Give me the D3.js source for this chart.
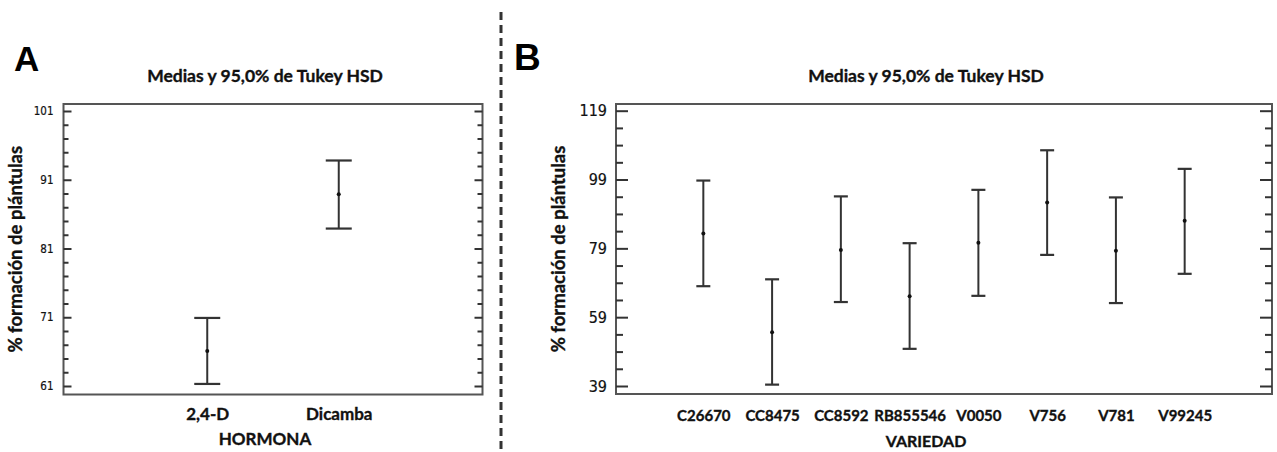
<!DOCTYPE html>
<html>
<head>
<meta charset="utf-8">
<script src="https://cdn.jsdelivr.net/npm/d3@7"></script>
<style>
  html, body { margin: 0; padding: 0; background: #fff; }
  svg { display: block; }
</style>
</head>
<body>
<svg id="chart" width="1277" height="452"></svg>
<script>
// ---------- DATA ----------
const hormonaCats  = ["2,4-D", "Dicamba"];
const hormonaMean  = [66.1, 88.9];
const hormonaLower = [61.3, 83.9];
const hormonaUpper = [70.9, 93.8];
const hormonaTicks = [61, 71, 81, 91, 101];

const variedadCats  = ["C26670", "CC8475", "CC8592", "RB855546", "V0050", "V756", "V781", "V99245"];
const variedadMean  = [83.3, 54.6, 78.5, 65.1, 80.6, 92.3, 78.3, 87.0];
const variedadLower = [68.0, 39.4, 63.4, 49.8, 65.2, 77.1, 63.1, 71.6];
const variedadUpper = [98.7, 70.0, 94.1, 80.5, 96.0, 107.5, 93.8, 102.1];
const variedadTicks = [39, 59, 79, 99, 119];

const titleText = "Medias y 95,0% de Tukey HSD";
const yLabelText = "% formación de plántulas";

// ---------- DRAW ----------
const svg = d3.select("#chart");
const lineColor = "#333";
const boxColor = "#555";
const textFont = "Lato, 'Open Sans', sans-serif";
const tickFont = "'Liberation Sans Narrow', 'DejaVu Sans Condensed', 'Liberation Sans', sans-serif";

function boldText(sel) {
  return sel.attr("font-family", textFont).attr("font-weight", "bold")
    .attr("fill", "#111").attr("stroke", "#111").attr("stroke-width", 0.35);
}

function panel(cfg) {
  const g = svg.append("g");
  const x = d3.scalePoint().domain(cfg.cats).range([cfg.left, cfg.right]).padding(cfg.xPad);
  const y = d3.scaleLinear().domain([cfg.ticks[0], cfg.ticks[cfg.ticks.length - 1]]).range([cfg.yBottomTick, cfg.yTopTick]);

  // box
  g.append("rect")
    .attr("x", cfg.left).attr("y", cfg.top)
    .attr("width", cfg.right - cfg.left).attr("height", cfg.bottom - cfg.top)
    .attr("fill", "none").attr("stroke", boxColor).attr("stroke-width", 2);

  const minorTicks = d3.range(cfg.ticks[0], cfg.ticks[cfg.ticks.length - 1] + 0.001, cfg.minorStep)
    .filter(v => !cfg.ticks.includes(v));

  // left axis major
  const ga = g.append("g").attr("transform", `translate(${cfg.left},0)`)
    .call(d3.axisLeft(y).tickValues(cfg.ticks).tickSize(-cfg.majorLen).tickPadding(cfg.labelGap).tickFormat(d3.format("d")));
  ga.select(".domain").remove();
  ga.selectAll(".tick line").attr("stroke", lineColor).attr("stroke-width", 2);
  ga.selectAll(".tick text").attr("font-family", tickFont).attr("font-size", cfg.tickFontSize)
    .attr("fill", "#111").attr("stroke", "#111").attr("stroke-width", 0.2);

  const gm = g.append("g").attr("transform", `translate(${cfg.left},0)`)
    .call(d3.axisLeft(y).tickValues(minorTicks).tickSize(-cfg.minorLen).tickFormat(""));
  gm.select(".domain").remove();
  gm.selectAll(".tick line").attr("stroke", lineColor).attr("stroke-width", 2);

  // right axis (ticks inward)
  const gr = g.append("g").attr("transform", `translate(${cfg.right},0)`)
    .call(d3.axisRight(y).tickValues(cfg.ticks).tickSize(-cfg.majorLen).tickFormat(""));
  gr.select(".domain").remove();
  gr.selectAll(".tick line").attr("stroke", lineColor).attr("stroke-width", 2);
  const grm = g.append("g").attr("transform", `translate(${cfg.right},0)`)
    .call(d3.axisRight(y).tickValues(minorTicks).tickSize(-cfg.minorLen).tickFormat(""));
  grm.select(".domain").remove();
  grm.selectAll(".tick line").attr("stroke", lineColor).attr("stroke-width", 2);

  // bottom category axis
  const gb = g.append("g").attr("transform", `translate(0,${cfg.bottom})`)
    .call(d3.axisBottom(x).tickSize(0).tickPadding(cfg.catPad));
  gb.select(".domain").remove();
  boldText(gb.selectAll(".tick text")).attr("font-size", cfg.catFontSize);

  // error bars
  const data = cfg.cats.map((c, i) => ({ c, m: cfg.mean[i], lo: cfg.lower[i], hi: cfg.upper[i] }));
  const eb = g.append("g").selectAll("g").data(data).join("g");
  eb.append("line").attr("x1", d => x(d.c)).attr("x2", d => x(d.c))
    .attr("y1", d => y(d.lo)).attr("y2", d => y(d.hi))
    .attr("stroke", lineColor).attr("stroke-width", 2);
  eb.append("line").attr("x1", d => x(d.c) - cfg.cap).attr("x2", d => x(d.c) + cfg.cap)
    .attr("y1", d => y(d.hi)).attr("y2", d => y(d.hi))
    .attr("stroke", lineColor).attr("stroke-width", 2.2);
  eb.append("line").attr("x1", d => x(d.c) - cfg.cap).attr("x2", d => x(d.c) + cfg.cap)
    .attr("y1", d => y(d.lo)).attr("y2", d => y(d.lo))
    .attr("stroke", lineColor).attr("stroke-width", 2.2);
  eb.append("circle").attr("cx", d => x(d.c)).attr("cy", d => y(d.m)).attr("r", 2)
    .attr("fill", "#111");

  // title
  boldText(g.append("text").attr("x", cfg.titleX).attr("y", 82).attr("text-anchor", "middle"))
    .attr("font-size", 17.5).text(titleText);

  // x axis title
  boldText(g.append("text").attr("x", cfg.titleX).attr("y", cfg.xTitleY).attr("text-anchor", "middle"))
    .attr("font-size", cfg.xTitleSize).text(cfg.xTitle);

  // y axis title
  boldText(g.append("text").attr("transform", `translate(${cfg.yTitleX},${(cfg.top + cfg.bottom) / 2}) rotate(-90)`)
    .attr("text-anchor", "middle").attr("dy", "0.35em"))
    .attr("font-size", 18.5).text(yLabelText);

  // panel letter
  g.append("text").attr("x", cfg.letterX).attr("y", cfg.letterY)
    .attr("font-family", "'Liberation Sans', Arial, sans-serif").attr("font-weight", "bold")
    .attr("font-size", cfg.letterSize).attr("fill", "#000").text(cfg.letter);
}

panel({
  cats: hormonaCats, mean: hormonaMean, lower: hormonaLower, upper: hormonaUpper, ticks: hormonaTicks,
  left: 63.5, right: 482.5, top: 104, bottom: 394.5, xPad: 1.093,
  yTopTick: 111, yBottomTick: 386, minorStep: 2, majorLen: 8, minorLen: 5, labelGap: 10,
  tickFontSize: 11.5, catFontSize: 17, catPad: 13, cap: 13,
  titleX: 265, xTitle: "HORMONA", xTitleY: 445, xTitleSize: 17,
  yTitleX: 16, letter: "A", letterX: 14, letterY: 71, letterSize: 35
});

panel({
  cats: variedadCats, mean: variedadMean, lower: variedadLower, upper: variedadUpper, ticks: variedadTicks,
  left: 616, right: 1272, top: 104, bottom: 394, xPad: 1.27,
  yTopTick: 110.7, yBottomTick: 386, minorStep: 5, majorLen: 12, minorLen: 7, labelGap: 9,
  tickFontSize: 16, catFontSize: 15, catPad: 16, cap: 7,
  titleX: 926, xTitle: "VARIEDAD", xTitleY: 447, xTitleSize: 16,
  yTitleX: 559, letter: "B", letterX: 514, letterY: 70, letterSize: 37
});

// dashed separator
svg.append("line").attr("x1", 501).attr("x2", 501).attr("y1", 12).attr("y2", 452)
  .attr("stroke", "#333").attr("stroke-width", 3).attr("stroke-dasharray", "8,5");
</script>
</body>
</html>
